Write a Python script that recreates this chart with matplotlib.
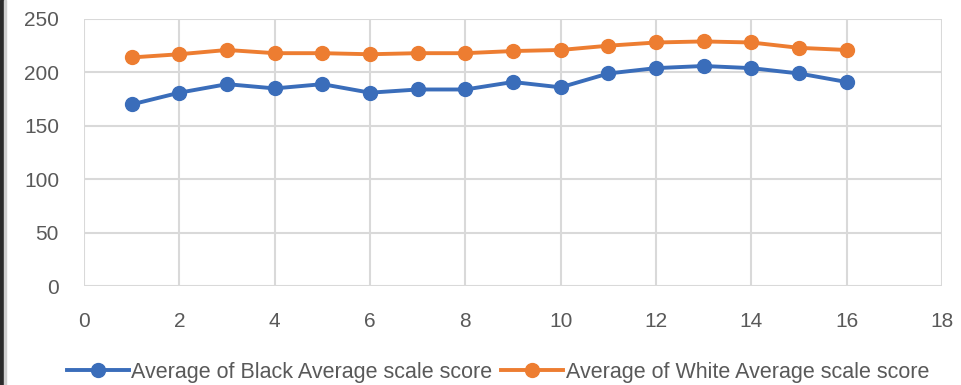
import matplotlib
matplotlib.use('Agg')
import matplotlib.pyplot as plt
from matplotlib.patches import Rectangle

grades = list(range(1, 17))
black_avg = [170, 181, 189, 185, 189, 181, 184, 184, 191, 186, 199, 204, 206, 204, 199, 191]
white_avg = [214, 217, 221, 218, 218, 217, 218, 218, 220, 221, 225, 228, 229, 228, 223, 221]
x_ticks = list(range(0, 19, 2))
y_ticks = list(range(0, 251, 50))

blue = '#3A6DBA'
orange = '#ED7D31'
grey_text = '#595959'
grid_col = '#D9D9D9'

plt.rcParams['font.family'] = ['Liberation Sans', 'DejaVu Sans']

fig = plt.figure(figsize=(9.61, 3.85), dpi=100)
ax = fig.add_axes([84 / 961, 1 - 286 / 385, (942 - 84) / 961, (286 - 19) / 385])

ax.plot(grades, black_avg, color=blue, lw=2.8, marker='o', ms=10,
        label='Average of Black Average scale score')
ax.plot(grades, white_avg, color=orange, lw=2.8, marker='o', ms=10,
        label='Average of White Average scale score')

ax.set_xlim(0, 18)
ax.set_ylim(0, 250)
ax.set_xticks(x_ticks)
ax.set_yticks(y_ticks)
ax.grid(True, color=grid_col, lw=1.5)
ax.set_axisbelow(True)
for s in ax.spines.values():
    s.set_visible(False)
ax.tick_params(length=0, labelsize=15, colors=grey_text)
ax.tick_params(axis='x', pad=19)
ax.tick_params(axis='y', pad=18)

leg = fig.legend(loc='lower center', bbox_to_anchor=(0.518, -0.045), ncol=2, frameon=False,
                 fontsize=15.5, handlelength=2.9, handletextpad=0.1, columnspacing=0.4)
for t in leg.get_texts():
    t.set_color(grey_text)

# dark window edge on the left
fig.patches.append(Rectangle((0, 0), 4 / 961, 1, transform=fig.transFigure,
                             color='#2b2b2b', zorder=0))
fig.patches.append(Rectangle((4 / 961, 0), 2 / 961, 1, transform=fig.transFigure,
                             color='#cfcfcf', zorder=0))

fig.savefig('out.png', dpi=100)
